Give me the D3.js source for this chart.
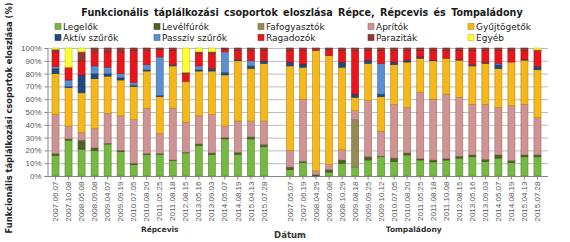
<!DOCTYPE html>
<html><head><meta charset="utf-8">
<script src="https://cdn.jsdelivr.net/npm/d3@7"></script>
<style>body{margin:0;background:#fff}svg{display:block}</style>
</head><body><div id="chart"></div>
<script>
// ---- data ----
const repcevisDates = ["2007.06.07","2007.10.08","2008.05.08","2008.09.08","2009.04.07","2009.09.19","2010.07.05","2010.08.20","2011.05.25","2011.08.18","2012.08.15","2013.05.16","2013.09.03","2014.05.07","2014.08.19","2015.04.13","2015.07.28"];
const tompaDates = ["2007.05.07","2007.06.19","2008.04.29","2008.09.08","2008.10.29","2009.08.18","2009.09.25","2009.10.12","2010.07.05","2010.08.20","2011.05.25","2011.08.18","2011.10.08","2012.08.15","2013.05.16","2013.09.03","2014.05.07","2014.08.19","2015.04.13","2015.07.28"];
const groupNames = ["Répcevis","Tompaládony"];
const seriesNames = ["Legelők","Levélfúrók","Fafogyasztók","Aprítók","Gyűjtögetők","Aktív szűrők","Passzív szűrők","Ragadozók","Paraziták","Egyéb"];
const seriesColors = ["#77b843","#4f6228","#948a54","#d09393","#f5b719","#1f497d","#5b8fd0","#e8161a","#953735","#ffff33"];
// values (%) : first 17 Répcevis, then 20 Tompaládony
const legelok     = [16,28,21,20,25,19,9,17,17,12,18,24,17,29,17,29,23, 5,10.5,0,3,10,7,12.5,15,11.5,16.5,12.5,11,12.5,14,15,11.5,14,10.5,15,15];
const levelfurok  = [1.5,1,7,2,0.5,1,1,0.5,0.5,0.5,0.5,1,1,1,1.5,1.5,1.5, 2,1,1,2,2.5,0,2.5,0.5,2.5,1.5,1,1.5,1,1.5,1.5,1.5,2.5,1.5,1.5,1.5];
const fafogyasztok= [0,0,0,0,0,0,0,0,0,0,0,0,0,0,0,0,0, 0,0,0,0,0,37,0,0,0,0,0,0,0,0,0,0,0,0,0,0];
const aprítok     = [30.5,10,6,15,23.5,27,34,35.5,15.5,40.5,23.5,22,30,9,24.5,12.5,18.5, 13,48.5,3,4,8,7,44,19.5,42,35.5,52,47.5,50.5,46,39.5,43,37,43,39.5,29];
const gyujtogetok = [32,30,31,39,29,28,26,29,29,33,32,35,34,40,47,41,45, 66,25,94,85,64.5,10.5,29,27,31,35.5,26.5,30,28,29,30,32,30.5,34,34.5,37.5];
const aktivSzurok = [4,1,14,4,2,2,1,1,1,1,0,1,2,2,1,2,2, 3,2.5,0,0,4,2.5,2.5,2,2,1.5,1,0.5,0,0.5,1,0.5,3,0,0.5,2.5];
const passzivSzurok=[1.5,5,0,6,5,3,2,4,30,0,0,3,0,16,0,4,0, 0,0,0,0,0,0,0,24,0,0,0,0,0,0,0,0,1,0,0,0];
const ragadozok   = [11.5,10,11,11,12,17,25,11,6,11,6,10,12,2,7,8,8, 9,10.5,0,5,9,34,7.5,10,9,7.5,5,7.5,6,7,11,9.5,10,9,7,12.5];
const parazitak   = [2,0,7,3,3,3,2,2,1,2,1,1,1,1,2,2,2, 2,2,2,1,2,2,2,2,2,2,2,2,2,2,2,2,2,2,2,0.5];
const egyeb       = [1,15,3,0,0,0,0,0,0,0,19,3,3,0,0,0,0, 0,0,0,0,0,0,0,0,0,0,0,0,0,0,0,0,0,0,0,1.5];
const yTicks = [0,10,20,30,40,50,60,70,80,90,100];

const seriesValues = [legelok,levelfurok,fafogyasztok,aprítok,gyujtogetok,aktivSzurok,passzivSzurok,ragadozok,parazitak,egyeb];

// rows
const rows = [];
repcevisDates.forEach((d,i)=>{const r={key:"R"+i,label:d,group:0};seriesNames.forEach((s,j)=>r[s]=seriesValues[j][i]);rows.push(r);});
const gapKey="gap";
tompaDates.forEach((d,i)=>{const k=repcevisDates.length+i;const r={key:"T"+i,label:d,group:1};seriesNames.forEach((s,j)=>r[s]=seriesValues[j][k]);rows.push(r);});
const domain = rows.slice(0,repcevisDates.length).map(r=>r.key).concat([gapKey]).concat(rows.slice(repcevisDates.length).map(r=>r.key));

const W=570,H=242;
const m={left:47,top:48,bottom:66};
const plotRight=548;
const svg=d3.select("#chart").append("svg").attr("width",W).attr("height",H);
const x=d3.scaleBand().domain(domain).range([49,544]).paddingInner(0.46).paddingOuter(0.23);
const y=d3.scaleLinear().domain([0,100]).range([H-m.bottom,m.top]);

// grid
svg.append("g").selectAll("line").data(yTicks).join("line")
 .attr("x1",m.left).attr("x2",plotRight).attr("y1",d=>y(d)+0.5).attr("y2",d=>y(d)+0.5)
 .attr("stroke","#bcbcbc").attr("stroke-width",1);

// y axis
const ya=svg.append("g").attr("transform",`translate(${m.left+0.5},0)`)
 .call(d3.axisLeft(y).tickValues(yTicks).tickFormat(d=>d+"%").tickSize(3).tickPadding(3));
ya.select(".domain").attr("stroke","#868686");
ya.selectAll(".tick line").attr("stroke","#868686");
ya.selectAll("text").attr("fill","#595959").style("font-family","Liberation Sans, Arial, sans-serif").style("font-size","8px");

// x axis
const xa=svg.append("g").attr("transform",`translate(0,${y(0)+0.5})`)
 .call(d3.axisBottom(x).tickValues(domain.filter(k=>k!==gapKey)).tickFormat(k=>rows.find(r=>r.key===k).label).tickSize(3).tickPadding(3));
xa.select(".domain").attr("stroke","#868686").attr("d",`M${m.left},0H${plotRight}`);
xa.selectAll(".tick line").attr("stroke","#868686");
xa.selectAll("text").attr("fill","#595959").style("font-family","Liberation Sans, Arial, sans-serif").style("font-size","8px")
 .attr("transform","rotate(-90)").attr("text-anchor","end").attr("x",-5).attr("y",0).attr("dy","0.33em");

// bars
const stack=d3.stack().keys(seriesNames)(rows);
const color=d3.scaleOrdinal().domain(seriesNames).range(seriesColors);
svg.append("g").selectAll("g").data(stack).join("g")
 .attr("fill",d=>color(d.key)).attr("stroke",d=>d3.color(color(d.key)).darker(0.8)).attr("stroke-width",0.6)
 .selectAll("rect").data(d=>d.filter(p=>p[1]-p[0]>0)).join("rect")
 .attr("x",d=>x(d.data.key)).attr("width",x.bandwidth())
 .attr("y",d=>y(d[1])).attr("height",d=>y(d[0])-y(d[1]));

// title
svg.append("text").attr("x",302).attr("y",16).attr("text-anchor","middle")
 .style("font-family","DejaVu Sans, Verdana, sans-serif").style("font-weight","bold").style("font-size","9.6px").attr("fill","#1a1a1a")
 .attr("word-spacing","2px")
 .text("Funkcionális táplálkozási csoportok eloszlása Répce, Répcevis és Tompaládony");

// legend
const legX=[55,154,258,368,468];
const lg=svg.append("g");
seriesNames.forEach((s,i)=>{
  const cx=legX[i%5], cy=i<5?27:38;
  lg.append("rect").attr("x",cx).attr("y",cy-3.5).attr("width",6).attr("height",6)
   .attr("fill",seriesColors[i]).attr("stroke",d3.color(seriesColors[i]).darker(0.8)).attr("stroke-width",0.6);
  lg.append("text").attr("x",cx+8).attr("y",cy+3).text(s)
   .style("font-family","DejaVu Sans, Verdana, sans-serif").style("font-size","9px").attr("fill","#222");
});

// y title
svg.append("text").attr("transform",`translate(12,${118}) rotate(-90)`).attr("text-anchor","middle")
 .style("font-family","DejaVu Sans, Verdana, sans-serif").style("font-weight","bold").style("font-size","8.3px").attr("fill","#222")
 .text("Funkcionális táplálkozási csoportok eloszlása (%)");

// group labels
const rMid=(x(rows[0].key)+x(rows[repcevisDates.length-1].key)+x.bandwidth())/2;
const tMid=(x(rows[repcevisDates.length].key)+x(rows[rows.length-1].key)+x.bandwidth())/2;
[rMid,tMid].forEach((mx,i)=>svg.append("text").attr("x",mx).attr("y",232).attr("text-anchor","middle")
 .style("font-family","DejaVu Sans, Verdana, sans-serif").style("font-weight","bold").style("font-size","7.5px").attr("fill","#333").text(groupNames[i]));
svg.append("text").attr("x",290).attr("y",238).attr("text-anchor","middle")
 .style("font-family","DejaVu Sans, Verdana, sans-serif").style("font-weight","bold").style("font-size","8.5px").attr("fill","#333").text("Dátum");
</script></body></html>
